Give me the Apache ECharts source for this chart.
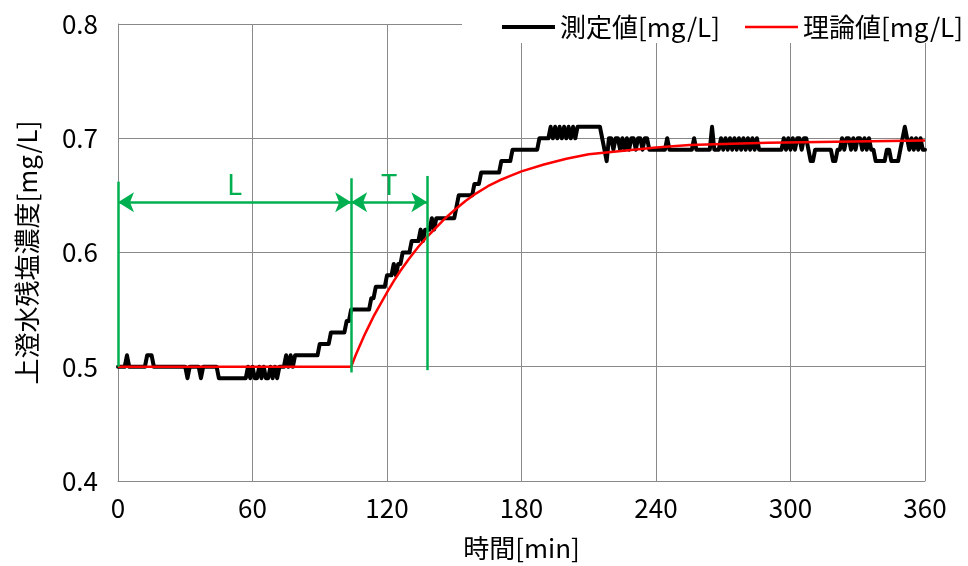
<!DOCTYPE html>
<html><head><meta charset="utf-8">
<script src="https://cdn.jsdelivr.net/npm/echarts@6/dist/echarts.min.js"></script>
<style>html,body{margin:0;padding:0;background:#fff}#c{width:968px;height:566px}</style>
</head><body><div id="c"></div>
<script>
// ---- data ----
const measuredName = '測定値[mg/L]';
const theoryName = '理論値[mg/L]';
const xTitle = '時間[min]';
const yTitle = '上澄水残塩濃度[mg/L]';

// measured concentration, one value per minute, t = 0 .. 360
const measured = [
0.50,0.50,0.50,0.50,0.51,0.50,0.50,0.50,0.50,0.50,
0.50,0.50,0.50,0.51,0.51,0.51,0.50,0.50,0.50,0.50,
0.50,0.50,0.50,0.50,0.50,0.50,0.50,0.50,0.50,0.50,
0.50,0.49,0.50,0.50,0.50,0.50,0.50,0.49,0.50,0.50,
0.50,0.50,0.50,0.50,0.50,0.49,0.49,0.49,0.49,0.49,
0.49,0.49,0.49,0.49,0.49,0.49,0.49,0.49,0.50,0.49,
0.50,0.49,0.49,0.50,0.49,0.50,0.49,0.49,0.50,0.49,
0.50,0.49,0.50,0.50,0.50,0.51,0.50,0.51,0.50,0.51,
0.51,0.51,0.51,0.51,0.51,0.51,0.51,0.51,0.51,0.51,
0.52,0.52,0.52,0.52,0.52,0.53,0.53,0.53,0.53,0.53,
0.53,0.53,0.54,0.54,0.55,0.55,0.55,0.55,0.55,0.55,
0.55,0.55,0.55,0.56,0.56,0.57,0.57,0.57,0.57,0.57,
0.58,0.58,0.58,0.59,0.58,0.59,0.59,0.60,0.60,0.60,
0.60,0.61,0.61,0.61,0.61,0.62,0.61,0.62,0.62,0.62,
0.63,0.62,0.63,0.63,0.63,0.63,0.63,0.63,0.63,0.63,
0.63,0.64,0.65,0.65,0.65,0.65,0.65,0.65,0.65,0.66,
0.66,0.66,0.67,0.67,0.67,0.67,0.67,0.67,0.67,0.67,
0.67,0.68,0.68,0.68,0.68,0.68,0.69,0.69,0.69,0.69,
0.69,0.69,0.69,0.69,0.69,0.69,0.69,0.69,0.70,0.70,
0.70,0.70,0.70,0.71,0.70,0.71,0.70,0.71,0.70,0.71,
0.70,0.71,0.70,0.71,0.70,0.71,0.71,0.71,0.71,0.71,
0.71,0.71,0.71,0.71,0.71,0.71,0.70,0.69,0.68,0.70,
0.70,0.69,0.70,0.70,0.69,0.70,0.69,0.70,0.69,0.70,
0.70,0.69,0.70,0.70,0.69,0.70,0.70,0.69,0.69,0.69,
0.69,0.69,0.69,0.69,0.69,0.70,0.69,0.69,0.69,0.69,
0.69,0.69,0.69,0.69,0.69,0.69,0.69,0.70,0.69,0.69,
0.69,0.69,0.69,0.69,0.69,0.71,0.69,0.69,0.69,0.70,
0.69,0.70,0.69,0.70,0.69,0.70,0.69,0.70,0.69,0.70,
0.69,0.70,0.69,0.70,0.69,0.70,0.69,0.69,0.69,0.69,
0.69,0.69,0.69,0.69,0.69,0.69,0.69,0.70,0.69,0.70,
0.69,0.70,0.69,0.70,0.70,0.69,0.70,0.70,0.69,0.68,
0.68,0.69,0.69,0.69,0.69,0.69,0.69,0.69,0.69,0.68,
0.68,0.69,0.69,0.70,0.69,0.70,0.70,0.69,0.70,0.69,
0.70,0.70,0.69,0.70,0.69,0.70,0.69,0.69,0.68,0.68,
0.68,0.68,0.68,0.69,0.69,0.68,0.68,0.68,0.68,0.69,
0.70,0.71,0.70,0.69,0.70,0.69,0.70,0.69,0.70,0.69,
0.69
];

// theoretical curve, points
const theoryTime  = [0, 104, 106, 108, 110, 112, 114, 116, 118, 120, 123, 126, 130, 134, 138, 142, 146, 150, 155, 160, 165, 170, 175, 180, 190, 200, 210, 220, 230, 240, 255, 270, 290, 320, 360];
const theoryValue = [0.500, 0.500, 0.510, 0.519, 0.528, 0.536, 0.544, 0.551, 0.558, 0.565, 0.575, 0.584, 0.595, 0.605, 0.614, 0.622, 0.630, 0.637, 0.645, 0.652, 0.658, 0.663, 0.667, 0.671, 0.677, 0.682, 0.686, 0.688, 0.690, 0.692, 0.694, 0.695, 0.696, 0.697, 0.698];

// green annotation: vertical markers and L / T spans
const markerTime   = [0, 104, 138];
const markerBottom = [0.500, 0.495, 0.497];
const markerTop    = [0.662, 0.665, 0.667];
const spanLabels   = ['L', 'T'];
const spanStart    = [0, 104];
const spanEnd      = [104, 138];
const spanLevel    = 0.644;

// axes
const xMin = 0, xMax = 360, xStep = 60;
const yMin = 0.4, yMax = 0.8, yStep = 0.1;

// ---- chart ----
const FONT = "'Noto Sans CJK JP', sans-serif";
const GRID = '#898989';
const GREEN = '#00B050';
// legend line icons (thick black, thinner red), framed in a 53x14 box
const ICON_THICK = 'path://M0,0 M0,5 L53,5 L53,9 L0,9 Z M53,14';
const ICON_THIN  = 'path://M0,0 M0,5.75 L53,5.75 L53,8.25 L0,8.25 Z M53,14';

const chart = echarts.init(document.getElementById('c'), null, {renderer: 'canvas'});

const option = {
  animation: false,
  backgroundColor: '#fff',
  textStyle: {fontFamily: FONT, color: '#000'},
  grid: {left: 118, right: 43, top: 24, bottom: 83, containLabel: false},
  legend: {
    data: [
      {name: measuredName, icon: ICON_THICK, itemStyle: {color: '#000', opacity: 1, borderWidth: 0}},
      {name: theoryName, icon: ICON_THIN, itemStyle: {color: '#FF0000', opacity: 1, borderWidth: 0}}
    ],
    right: 0, top: 11,
    padding: [3, 5, 3, 40],
    backgroundColor: '#fff',
    itemWidth: 53, itemHeight: 14, itemGap: 25,
    textStyle: {fontSize: 26, color: '#000', fontFamily: FONT}
  },
  xAxis: {
    type: 'value', min: xMin, max: xMax, interval: xStep,
    name: xTitle, nameLocation: 'middle', nameGap: 54,
    nameTextStyle: {fontSize: 26, color: '#000', fontFamily: FONT},
    axisLine: {show: true, lineStyle: {color: GRID, width: 1}},
    axisTick: {show: false},
    axisLabel: {fontSize: 26, color: '#000', margin: 14, fontFamily: FONT},
    splitLine: {show: true, lineStyle: {color: GRID, width: 1}}
  },
  yAxis: {
    type: 'value', min: yMin, max: yMax, interval: yStep,
    name: yTitle, nameLocation: 'middle', nameGap: 78, nameRotate: 90,
    nameTextStyle: {fontSize: 26, color: '#000', fontFamily: FONT},
    axisLine: {show: true, lineStyle: {color: GRID, width: 1}},
    axisTick: {show: false},
    axisLabel: {fontSize: 26, color: '#000', margin: 20, fontFamily: FONT,
      formatter: v => v.toFixed(1)},
    splitLine: {show: true, lineStyle: {color: GRID, width: 1}}
  },
  series: [
    {
      name: '_markers', type: 'line', data: [], silent: true,
      markLine: {
        silent: true, symbol: ['none', 'none'], animation: false,
        lineStyle: {color: GREEN, width: 2.5, type: 'solid'},
        label: {show: false},
        data: markerTime.map((t, i) => [{coord: [t, markerBottom[i]]}, {coord: [t, markerTop[i]]}])
      }
    },
    {
      name: '_spans', type: 'line', data: [], silent: true,
      markLine: {
        silent: true, symbol: ['arrow', 'arrow'], symbolSize: [15, 16], animation: false,
        lineStyle: {color: GREEN, width: 2.5, type: 'solid'},
        label: {show: true, position: 'middle', color: GREEN, fontSize: 28, fontFamily: FONT,
          formatter: p => p.name, distance: 4},
        data: spanLabels.map((n, i) => [{name: n, coord: [spanStart[i], spanLevel]}, {coord: [spanEnd[i], spanLevel]}])
      }
    },
    {
      name: measuredName, type: 'line', color: '#000',
      data: measured.map((v, i) => [i, v]),
      showSymbol: false, symbol: 'none',
      lineStyle: {color: '#000', width: 4, join: 'round', cap: 'round'},
      z: 3
    },
    {
      name: theoryName, type: 'line', color: '#FF0000',
      data: theoryTime.map((t, i) => [t, theoryValue[i]]),
      showSymbol: false, symbol: 'none',
      lineStyle: {color: '#FF0000', width: 2.5},
      z: 4
    }
  ]
};
chart.setOption(option);
</script>
</body></html>
